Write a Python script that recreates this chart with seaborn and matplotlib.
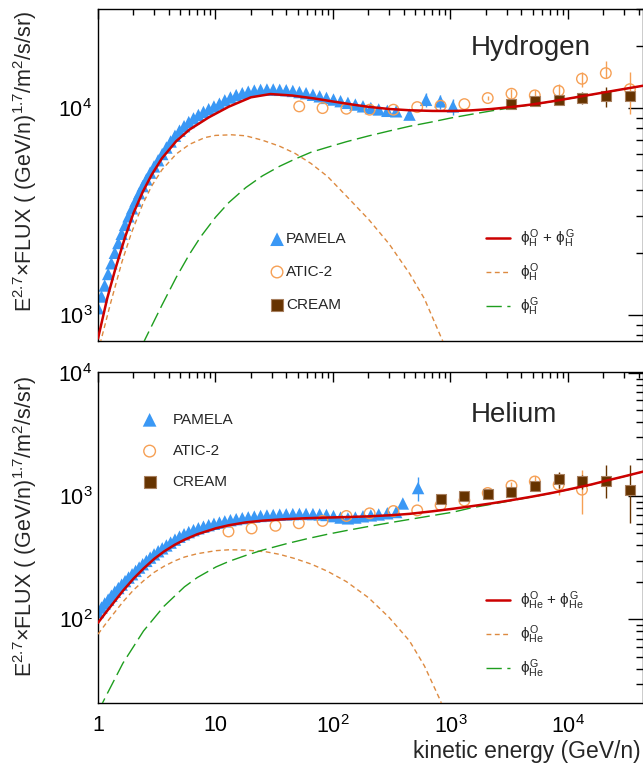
"""Hydrogen / helium E^2.7 x flux, data points and two-component model."""

import matplotlib
matplotlib.use("Agg")
import matplotlib.pyplot as plt
import seaborn as sns
from matplotlib.ticker import FixedLocator, FixedFormatter, LogLocator, NullFormatter

# --------------------------------------------------------------------------- #
# data (kinetic energy in GeV/n, E^2.7 x flux)
# --------------------------------------------------------------------------- #
pamela_e = [1.00, 1.07, 1.14, 1.22, 1.30, 1.39, 1.49, 1.59, 1.70, 1.82, 1.95, 2.09,
            2.24, 2.40, 2.58, 2.78, 3.00, 3.25, 3.52, 3.82, 4.15, 4.52, 4.94, 5.40,
            5.92, 6.50, 7.15, 7.90, 8.75, 9.70, 10.8, 12.0, 13.4, 15.0, 16.9, 19.0,
            21.4, 24.2, 27.4, 31.0, 35.2, 40.0, 45.5, 51.8, 59.0, 67.5, 77.0, 88.0,
            101, 116, 134, 155, 180, 210, 245, 290, 345]
pamela_h = [1080, 1230, 1390, 1580, 1780, 2000, 2230, 2470, 2730, 3000, 3280, 3570,
            3880, 4200, 4530, 4880, 5230, 5600, 6000, 6450, 6900, 7350, 7780, 8180,
            8560, 8920, 9260, 9580, 9880, 10180, 10500, 10900, 11250, 11550, 11800, 12000,
            12150, 12250, 12300, 12300, 12250, 12200, 12100, 11950, 11800, 11600, 11400, 11200,
            11000, 10800, 10600, 10400, 10200, 10000, 9850, 9700, 9650]
pamela_he = [115, 125, 135, 145, 156, 168, 180, 192, 205, 219, 233, 248,
             264, 281, 299, 318, 338, 358, 378, 399, 421, 445, 470, 492,
             512, 531, 550, 567, 583, 598, 612, 626, 640, 652, 664, 674,
             684, 692, 699, 705, 710, 714, 717, 719, 719, 717, 713, 705,
             690, 672, 662, 672, 688, 700, 712, 728, 745]

# last PAMELA points, drawn with error bars
pamela_h_tail_e = [448, 620, 820, 1050]
pamela_h_tail = [9300, 10960, 10770, 10190]
pamela_h_tail_lo = [9000, 10100, 9950, 9300]
pamela_h_tail_hi = [9650, 11800, 11600, 11100]
pamela_he_tail_e = [393, 530]
pamela_he_tail = [874, 1166]
pamela_he_tail_lo = [830, 912]
pamela_he_tail_hi = [920, 1445]

atic_h_e = [51.6, 81.5, 130, 205, 327, 521, 824, 1313, 2075, 3305, 5220, 8330, 13150, 20990, 33660]
atic_h = [10190, 10000, 9930, 9820, 9820, 10110, 10260, 10450, 11180, 11730, 11520, 12100, 13850, 14750, 12340]
atic_h_lo = [10190, 10000, 9930, 9820, 9820, 10110, 10260, 10450, 10900, 11200, 10900, 11200, 12700, 13900, 9400]
atic_h_hi = [10190, 10000, 9930, 9820, 9820, 10110, 10260, 10450, 11450, 12300, 12200, 13000, 15000, 16800, 15000]

atic_he_e = [12.9, 20.3, 32.4, 51.2, 81.5, 130, 205, 327, 521, 824, 1313, 2075, 3305, 5220, 8330, 13150]
atic_he = [518, 548, 576, 604, 631, 692, 727, 759, 768, 847, 923, 1063, 1217, 1318, 1240, 1131]
atic_he_lo = [518, 548, 576, 604, 631, 692, 727, 759, 768, 847, 923, 1000, 1130, 1200, 1031, 713]
atic_he_hi = [518, 548, 576, 604, 631, 692, 727, 759, 768, 847, 923, 1130, 1300, 1450, 1555, 1634]

cream_h_e = [3305, 5220, 8330, 13150, 20990, 33660]
cream_h = [10490, 10850, 10900, 11150, 11400, 11450]
cream_h_lo = [10200, 10450, 10400, 10450, 10100, 10950]
cream_h_hi = [10800, 11250, 11400, 11900, 12700, 11950]

cream_he_e = [824, 1313, 2075, 3305, 5220, 8330, 13150, 20990, 33660]
cream_he = [951, 1000, 1050, 1076, 1217, 1377, 1318, 1334, 1131]
cream_he_lo = [900, 950, 1000, 1020, 1130, 1166, 1150, 970, 612]
cream_he_hi = [1000, 1050, 1100, 1130, 1300, 1585, 1500, 1791, 1791]

# model curves (total, "O" component, "G" component)
tot_h_e = [1, 1.2, 1.4, 1.7, 2.0, 2.4, 2.86, 3.5, 4.63, 6, 8.8, 13, 20, 29.3, 45, 70, 100,
           150, 200, 300, 450, 700, 1050, 1500, 2240, 3300, 5000, 7500, 11200, 16000,
           21300, 30000, 43500]
tot_h = [771, 1210, 1660, 2380, 3100, 3930, 4760, 5720, 6920, 7870, 9030, 10160, 11270, 11690,
         11500, 11120, 10760, 10380, 10140, 9900, 9760, 9690, 9680, 9750, 9900, 10120, 10420,
         10800, 11230, 11630, 11960, 12370, 12820]
orig_h_e = [1, 1.05, 1.28, 1.6, 1.92, 2.4, 2.86, 3.5, 4.63, 6, 8.1, 10, 13.7, 18, 25, 35, 47.4,
            65, 90, 130, 201, 300, 448, 600, 850, 1000]
orig_h = [662, 740, 1143, 1810, 2485, 3430, 4200, 5030, 6000, 6680, 7200, 7380, 7430, 7350,
          7000, 6550, 6050, 5400, 4670, 3760, 2900, 2210, 1590, 1200, 760, 610]
gal_h_e = [2.0, 2.54, 3.5, 4.63, 6, 7.5, 10, 13, 18.1, 25, 35, 47.4, 65, 90, 130, 201, 300,
           448, 700, 1000, 1500, 2240, 3300, 5000, 7500, 11200, 16000, 21300, 30000, 43500]
gal_h = [580, 773, 1117, 1521, 1968, 2395, 2970, 3500, 4130, 4700, 5230, 5670, 6120, 6470,
         6880, 7340, 7750, 8170, 8580, 8950, 9330, 9700, 10050, 10400, 10780, 11210, 11610,
         11940, 12350, 12800]

tot_he_e = [1, 1.2, 1.63, 2.0, 2.44, 3.0, 3.64, 4.5, 5.44, 7, 10.1, 13, 18.1, 25, 40.5, 60, 90,
            130, 201, 327, 448, 700, 1050, 1500, 2240, 3300, 5000, 7500, 11200, 16000, 21300,
            30000, 43500]
tot_he = [94, 118, 171, 214, 259, 310, 356, 404, 444, 492, 550, 582, 614, 634, 653, 664, 672,
          678, 687, 704, 720, 755, 792, 830, 876, 930, 995, 1070, 1160, 1250, 1340, 1450, 1585]
orig_he_e = [1, 1.2, 1.63, 2.0, 2.44, 3.0, 3.64, 4.5, 5.44, 7, 10.1, 13.1, 18, 27, 35, 47, 65,
             90, 130, 201, 300, 448, 600, 820, 900]
orig_he = [76, 96, 139, 173, 206, 241, 270, 299, 321, 342, 362, 368, 366, 354, 338, 313, 282,
           246, 203, 150, 104, 67, 42, 22, 17]
gal_he_e = [1.0, 1.14, 1.63, 2.44, 3.64, 5.44, 7, 10.1, 13, 18.1, 25, 40.5, 60, 90, 130, 201,
            327, 448, 700, 1050, 1500, 2240, 3300, 5000, 7500, 11200, 16000, 21300, 30000, 43500]
gal_he = [17.7, 22.8, 44.2, 80.7, 128, 184, 219, 267, 296, 331, 365, 413, 452, 492, 527, 569,
          617, 649, 697, 743, 805, 862, 922, 990, 1066, 1157, 1247, 1337, 1447, 1582]

BLUE = "#3a98f5"
RED = "#cc0000"
ORANGE = "#dd8a40"
ATIC_C = "#f6a055"
BROWN = "#663300"
GREEN = "#1e9e1e"

sns.set_theme(style="white")
plt.rcParams["font.family"] = ["Liberation Sans", "DejaVu Sans"]
plt.rcParams["mathtext.fontset"] = "custom"
plt.rcParams["mathtext.rm"] = "Liberation Sans"
plt.rcParams["mathtext.it"] = "Liberation Sans"
plt.rcParams["mathtext.bf"] = "Liberation Sans:bold"

YLABEL = r"E$^{2.7}$$\times$FLUX ( (GeV/n)$^{1.7}$/m$^{2}$/s/sr)"


def _errbars(ax, x, y, lo, hi, color):
    """Barras verticais sem 'caps', estilo ROOT."""
    yerr = [[v - l for v, l in zip(y, lo)], [h - v for v, h in zip(y, hi)]]
    ax.errorbar(x, y, yerr=yerr, fmt="none", ecolor=color, elinewidth=1.0, capsize=0, zorder=1)


def draw_panel(ax, pam, tail, atic, cream, curves, labels):
    ax.set(xscale="log", yscale="log")

    _errbars(ax, *tail, BLUE)
    _errbars(ax, *atic, ATIC_C)
    _errbars(ax, *cream, BROWN)

    sns.scatterplot(x=pamela_e + tail[0], y=pam + tail[1], ax=ax, marker="^", s=80,
                    color=BLUE, edgecolor="none", linewidth=0, label="PAMELA", legend=False, zorder=2)
    sns.scatterplot(x=atic[0], y=atic[1], ax=ax, marker="o", s=58, label="ATIC-2",
                    legend=False, zorder=3)
    coll = ax.collections[-1]
    coll.set_facecolor("none"); coll.set_edgecolor(ATIC_C); coll.set_linewidth(1.0)
    sns.scatterplot(x=cream[0], y=cream[1], ax=ax, marker="s", s=58, color=BROWN,
                    edgecolor="#a88060", linewidth=0.8, label="CREAM", legend=False, zorder=3)

    (te, tv), (oe, ov), (ge, gv) = curves
    sns.lineplot(x=oe, y=ov, ax=ax, color=ORANGE, lw=1.0, label=labels[1],
                 sort=False, estimator=None, legend=False, zorder=4)
    ax.lines[-1].set_dashes((3.5, 2.5))
    sns.lineplot(x=ge, y=gv, ax=ax, color=GREEN, lw=1.0, label=labels[2],
                 sort=False, estimator=None, legend=False, zorder=4)
    ax.lines[-1].set_dashes((11, 4))
    sns.lineplot(x=te, y=tv, ax=ax, color=RED, lw=1.8, label=labels[0],
                 sort=False, estimator=None, legend=False, zorder=5)

    ax.set_xlim(1, 43500)
    ax.xaxis.set_major_locator(FixedLocator([1, 10, 100, 1e3, 1e4]))
    ax.xaxis.set_minor_locator(LogLocator(base=10, subs=range(2, 10), numticks=30))
    ax.yaxis.set_minor_locator(LogLocator(base=10, subs=range(2, 10), numticks=30))
    ax.xaxis.set_minor_formatter(NullFormatter())
    ax.yaxis.set_minor_formatter(NullFormatter())
    ax.tick_params(axis="both", which="both", direction="in", top=True, right=True,
                   width=1.0, color="black", labelsize=15.5, labelcolor="black")
    ax.tick_params(axis="x", which="major", length=7.5, pad=8.5)
    ax.tick_params(axis="x", which="minor", length=4.5)
    ax.tick_params(axis="y", which="major", length=11, pad=4)
    ax.tick_params(axis="y", which="minor", length=5)
    for sp in ax.spines.values():
        sp.set_color("black"); sp.set_linewidth(1.0)
    ax.grid(False)


fig = plt.figure(figsize=(6.43, 7.73), dpi=100)
ax_h = fig.add_axes([98 / 643, 1 - 341 / 773, 545 / 643, 331.7 / 773])
ax_he = fig.add_axes([98 / 643, 1 - 703 / 773, 545 / 643, 331 / 773])

h_labels = [r"$\phi^{O}_{H}$ + $\phi^{G}_{H}$", r"$\phi^{O}_{H}$", r"$\phi^{G}_{H}$"]
he_labels = [r"$\phi^{O}_{He}$ + $\phi^{G}_{He}$", r"$\phi^{O}_{He}$", r"$\phi^{G}_{He}$"]

draw_panel(ax_h, pamela_h,
           (pamela_h_tail_e, pamela_h_tail, pamela_h_tail_lo, pamela_h_tail_hi),
           (atic_h_e, atic_h, atic_h_lo, atic_h_hi),
           (cream_h_e, cream_h, cream_h_lo, cream_h_hi),
           ((tot_h_e, tot_h), (orig_h_e, orig_h), (gal_h_e, gal_h)), h_labels)
draw_panel(ax_he, pamela_he,
           (pamela_he_tail_e, pamela_he_tail, pamela_he_tail_lo, pamela_he_tail_hi),
           (atic_he_e, atic_he, atic_he_lo, atic_he_hi),
           (cream_he_e, cream_he, cream_he_lo, cream_he_hi),
           ((tot_he_e, tot_he), (orig_he_e, orig_he), (gal_he_e, gal_he)), he_labels)

ax_h.set_ylim(750, 30000)
ax_h.yaxis.set_major_locator(FixedLocator([1e3, 1e4]))
ax_h.yaxis.set_major_formatter(FixedFormatter([r"$\mathregular{10^{3}}$", r"$\mathregular{10^{4}}$"]))
ax_h.tick_params(axis="x", labelbottom=False)

ax_he.set_ylim(21, 10200)
ax_he.yaxis.set_major_locator(FixedLocator([1e2, 1e3, 1e4]))
ax_he.yaxis.set_major_formatter(FixedFormatter([r"$\mathregular{10^{2}}$", r"$\mathregular{10^{3}}$",
                                                r"$\mathregular{10^{4}}$"]))
ax_he.xaxis.set_major_formatter(FixedFormatter(["1", "10", r"$\mathregular{10^{2}}$",
                                                r"$\mathregular{10^{3}}$", r"$\mathregular{10^{4}}$"]))

# legends: markers on the left, model curves on the right
for ax, labels, mk_anchor, mk_pad, mk_sp in [(ax_h, h_labels, (0.3145, 0.208), 0.1, 1.23),
                                             (ax_he, he_labels, (0.0807, 0.761), 1.0, 1.13)]:
    handles, names = ax.get_legend_handles_labels()
    lookup = dict(zip(names, handles))
    mk_names = ["PAMELA", "ATIC-2", "CREAM"]
    leg = ax.legend([lookup[n] for n in mk_names], mk_names, loc="center left",
                    bbox_to_anchor=mk_anchor, frameon=False, fontsize=11, handlelength=1.0,
                    handletextpad=mk_pad, labelspacing=mk_sp, borderpad=0, borderaxespad=0,
                    markerscale=1.1)
    ax.add_artist(leg)
    ax.legend([lookup[n] for n in labels], labels, loc="center left",
              bbox_to_anchor=(0.712, 0.206), frameon=False, fontsize=11, handlelength=1.6,
              handletextpad=0.6, labelspacing=0.74, borderpad=0, borderaxespad=0)

ax_h.text(0.684, 0.883, "Hydrogen", transform=ax_h.transAxes, fontsize=20, ha="left", va="center")
ax_he.text(0.684, 0.870, "Helium", transform=ax_he.transAxes, fontsize=20, ha="left", va="center")

for ax, yc in [(ax_h, 0.54), (ax_he, 0.532)]:
    ax.set_ylabel(YLABEL, fontsize=15.5, va="center")
    ax.yaxis.set_label_coords(-0.133, yc)

ax_he.set_xlabel("kinetic energy (GeV/n)", fontsize=16.5, ha="right", va="center")
ax_he.xaxis.set_label_coords(1 - 2 / 545, -0.148)

fig.savefig("out.png", dpi=100)
